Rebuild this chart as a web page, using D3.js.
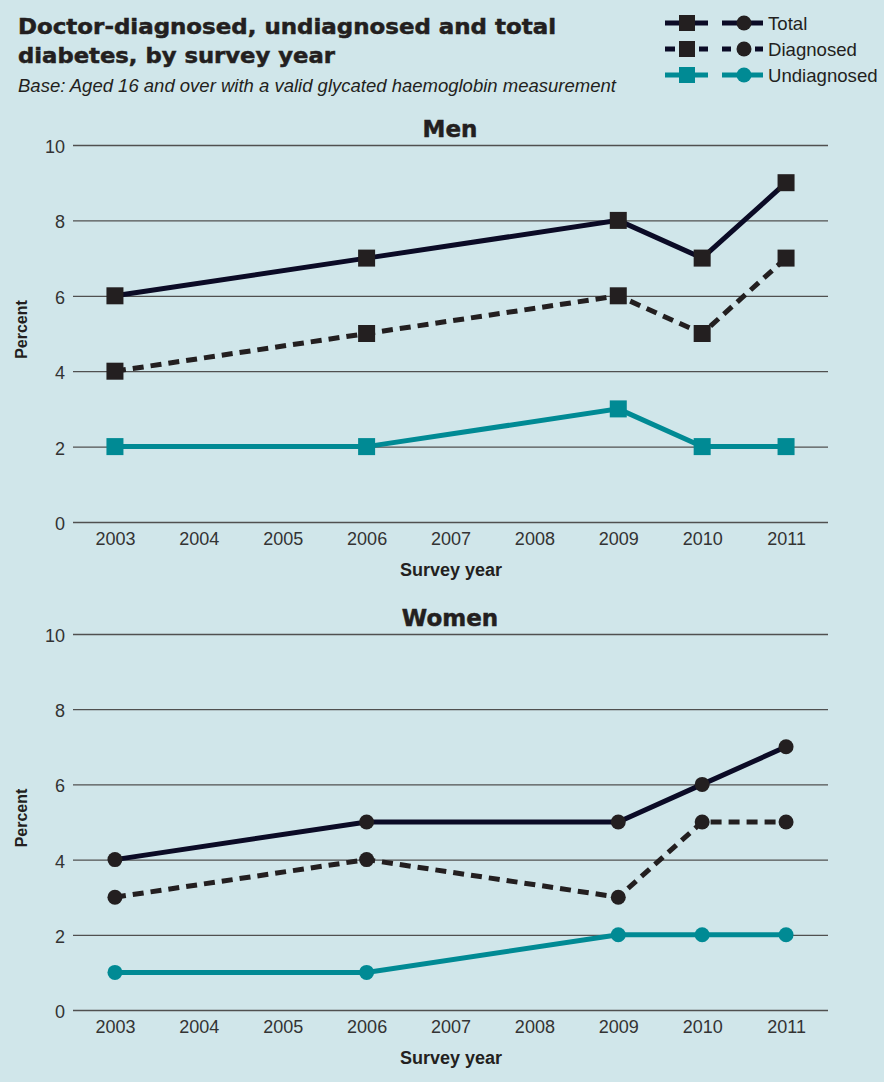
<!DOCTYPE html>
<html>
<head>
<meta charset="utf-8">
<script src="https://cdn.jsdelivr.net/npm/d3@7"></script>
<style>
  html, body { margin: 0; padding: 0; background: #d0e6ea; }
  svg { display: block; font-family: "Liberation Sans", Arial, sans-serif; }
</style>
</head>
<body>
<svg id="chart" width="884" height="1082"></svg>
<script>
// Survey years on the x axis
const years = ["2003", "2004", "2005", "2006", "2007", "2008", "2009", "2010", "2011"];
const surveyYears = ["2003", "2006", "2009", "2010", "2011"];
const yTicks = [0, 2, 4, 6, 8, 10];

// Percent with diabetes, by survey year
const menTotal = [6, 7, 8, 7, 9];
const menDiagnosed = [4, 5, 6, 5, 7];
const menUndiagnosed = [2, 2, 3, 2, 2];
const womenTotal = [4, 5, 5, 6, 7];
const womenDiagnosed = [3, 4, 3, 5, 5];
const womenUndiagnosed = [1, 1, 2, 2, 2];

const seriesNames = ["Total", "Diagnosed", "Undiagnosed"];

const BG = "#d0e6ea";
const DARK = "#231f20";
const NAVY = "#0b0b26";
const TEAL = "#008a94";
const HEAVY = "'DejaVu Sans', Verdana, sans-serif";

const svg = d3.select("#chart");
svg.append("rect").attr("width", 884).attr("height", 1082).attr("fill", BG);

// Heading (thin stroke gives a heavier weight)
const title = svg.append("text").attr("fill", DARK).attr("font-family", HEAVY)
  .attr("font-size", 21).attr("font-weight", "bold")
  .attr("stroke", DARK).attr("stroke-width", 0.5);
title.append("tspan").attr("x", 18).attr("y", 34)
  .attr("textLength", 538).attr("lengthAdjust", "spacingAndGlyphs")
  .text("Doctor-diagnosed, undiagnosed and total");
title.append("tspan").attr("x", 18).attr("y", 63)
  .attr("textLength", 317).attr("lengthAdjust", "spacingAndGlyphs")
  .text("diabetes, by survey year");
svg.append("text").attr("x", 18).attr("y", 92).attr("fill", DARK)
  .attr("font-size", 18.5).attr("font-style", "italic")
  .text("Base: Aged 16 and over with a valid glycated haemoglobin measurement");

// Legend
const legendRows = [
  { name: seriesNames[0], color: NAVY, mark: DARK, broken: false },
  { name: seriesNames[1], color: NAVY, mark: DARK, broken: true },
  { name: seriesNames[2], color: TEAL, mark: TEAL, broken: false }
];
legendRows.forEach((r, i) => {
  const y = 23 + i * 26;
  const g = svg.append("g").attr("stroke", r.color).attr("stroke-width", 5);
  const segs = r.broken
    ? [[665, 675], [699, 708], [722, 731], [755, 763]]
    : [[665, 708], [722, 763]];
  segs.forEach(s => g.append("line").attr("x1", s[0]).attr("x2", s[1]).attr("y1", y).attr("y2", y));
  svg.append("rect").attr("x", 679).attr("y", y - 8).attr("width", 16).attr("height", 16).attr("fill", r.mark);
  svg.append("circle").attr("cx", 744).attr("cy", y).attr("r", 7.5).attr("fill", r.mark);
  svg.append("text").attr("x", 768).attr("y", y + 7).attr("font-size", 18.6).attr("fill", DARK).text(r.name);
});

function panel(opts) {
  const { top, bottom, label, total, diagnosed, undiagnosed, marker } = opts;
  const x = d3.scalePoint().domain(years).range([73, 828]).padding(0.5);
  const y = d3.scaleLinear().domain([0, 10]).range([bottom, top]);
  const g = svg.append("g");

  // Gridlines and y tick labels
  const yAxis = d3.axisLeft(y).tickValues(yTicks).tickSize(-(828 - 73)).tickPadding(8);
  const ya = g.append("g").attr("transform", "translate(73,0)").call(yAxis);
  ya.select(".domain").remove();
  ya.selectAll(".tick line").attr("stroke", "#505050").attr("stroke-width", 1.3);
  ya.selectAll(".tick text").attr("font-size", 18).attr("fill", "#333")
    .attr("font-family", "Liberation Sans, Arial, sans-serif").attr("dy", "0.42em");

  // x tick labels
  const xAxis = d3.axisBottom(x).tickSize(0).tickPadding(10);
  const xa = g.append("g").attr("transform", `translate(0,${bottom})`).call(xAxis);
  xa.select(".domain").remove();
  xa.selectAll(".tick text").attr("font-size", 18).attr("fill", "#333")
    .attr("font-family", "Liberation Sans, Arial, sans-serif");

  g.append("text").attr("x", 451).attr("y", bottom + 54).attr("text-anchor", "middle")
    .attr("font-size", 18).attr("font-weight", "bold").attr("fill", DARK).text("Survey year");
  g.append("text").attr("transform", `translate(27,${(top + bottom) / 2 - 4}) rotate(-90)`)
    .attr("text-anchor", "middle").attr("font-size", 16).attr("font-weight", "bold")
    .attr("fill", DARK).text("Percent");
  g.append("text").attr("x", 450).attr("y", top - 8).attr("text-anchor", "middle")
    .attr("font-family", HEAVY).attr("font-size", 23).attr("font-weight", "bold")
    .attr("stroke", DARK).attr("stroke-width", 0.5)
    .attr("fill", DARK).text(label);

  const line = d3.line().x((d, i) => x(surveyYears[i])).y(d => y(d));
  const series = [
    { vals: undiagnosed, color: TEAL, mark: TEAL, dash: null },
    { vals: diagnosed, color: DARK, mark: DARK, dash: "11,7" },
    { vals: total, color: NAVY, mark: DARK, dash: null }
  ];
  series.forEach(s => {
    g.append("path").datum(s.vals).attr("d", line).attr("fill", "none")
      .attr("stroke", s.color).attr("stroke-width", 5).attr("stroke-dasharray", s.dash)
      .attr("stroke-linejoin", "miter");
    if (marker === "square") {
      g.selectAll(null).data(s.vals).enter().append("rect")
        .attr("x", (d, i) => x(surveyYears[i]) - 8.5).attr("y", d => y(d) - 8.5)
        .attr("width", 17).attr("height", 17).attr("fill", s.mark);
    } else {
      g.selectAll(null).data(s.vals).enter().append("circle")
        .attr("cx", (d, i) => x(surveyYears[i])).attr("cy", d => y(d))
        .attr("r", 7.5).attr("fill", s.mark);
    }
  });
}

panel({ top: 145, bottom: 522, label: "Men", total: menTotal, diagnosed: menDiagnosed,
  undiagnosed: menUndiagnosed, marker: "square" });
panel({ top: 634, bottom: 1010, label: "Women", total: womenTotal, diagnosed: womenDiagnosed,
  undiagnosed: womenUndiagnosed, marker: "circle" });
</script>
</body>
</html>
